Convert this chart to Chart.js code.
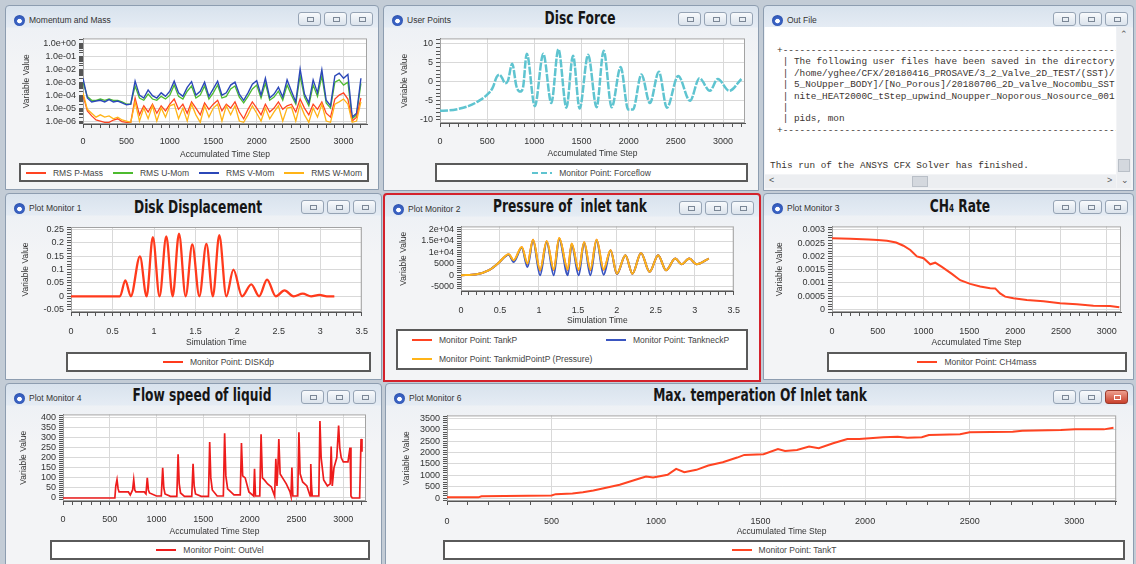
<!DOCTYPE html>
<html>
<head>
<meta charset="utf-8">
<title>CFX Solver Monitors</title>
<script src="https://cdn.jsdelivr.net/npm/chart.js@4.4.1/dist/chart.umd.min.js"></script>
<style>
  body { margin: 0; width: 1136px; height: 564px; position: relative; overflow: hidden; background: #c3ccd6; font-family: "Liberation Sans", Arial, sans-serif; }
  .win { position: absolute; box-sizing: border-box; border: 1px solid #8d9db0; border-radius: 4px 4px 0 0;
         background: linear-gradient(#d8e2ed 0, #e5ecf4 21px, #eef1f5 22px, #f3f4f6 60px); }
  .win.act { border: 2px solid #d4222c; }
  .ico { position: absolute; left: 8px; top: 9px; width: 11px; height: 11px; border-radius: 50%;
         background: radial-gradient(circle at 50% 55%, #fff 0 2px, #3d66c8 2.6px, #24479e 100%); }
  .cap { position: absolute; left: 23px; top: 9px; font-size: 8.5px; color: #333; white-space: nowrap; }
  .btns { position: absolute; right: 5px; top: 6px; display: flex; gap: 3px; }
  .btns i { display: block; position: relative; width: 23px; height: 14px; box-sizing: border-box; border: 1px solid #96a4b5;
            border-radius: 3px; background: linear-gradient(#f8fafc, #dbe3ec); }
  .btns i::after { content: ''; position: absolute; left: 8px; top: 4px; width: 5px; height: 3px; border: 1px solid #7b8796; }
  .btns i.red { background: linear-gradient(#eea08f, #c9412c); border-color: #9b3a2c; }
  .btns i.red::after { border-color: #fff; }
  .big { position: absolute; transform: translateX(-50%) scaleX(0.8); white-space: nowrap; color: #161616;
         font: bold 17px "Liberation Sans Narrow", "DejaVu Sans Condensed", sans-serif; }
  .big small { font-size: 10px; }
  .cv { position: absolute; }
  .leg { position: absolute; box-sizing: border-box; border: 2px solid #5a5a5a; background: #fff;
         font-size: 8.5px; color: #444; display: flex; align-items: center; justify-content: center; }
  .leg.spread { justify-content: space-around; }
  .leg.grid { display: grid; grid-template-columns: 194px 1fr; align-items: center; justify-content: start; padding: 0 14px; }
  .li { white-space: nowrap; display: flex; align-items: center; }
  .sw { display: inline-block; width: 20px; height: 2px; margin-right: 7px; }
  .txt { position: absolute; left: 765px; top: 27px; width: 351px; height: 147px; background: #fff; overflow: hidden;
         font: 9.4px "Liberation Mono", "DejaVu Sans Mono", monospace; color: #3a3430; }
  .txt pre { margin: 0; position: absolute; left: 12px; top: 18px; font: inherit; line-height: 11.4px; }
  .txt .done { position: absolute; left: 5px; top: 133px; white-space: nowrap; line-height: 11.4px; }
  .vs { position: absolute; left: 1117px; top: 27px; width: 14px; height: 161px; background: #eceef1; }
  .hs { position: absolute; left: 765px; top: 175px; width: 351px; height: 13px; background: #eceef1; }
  .thumb { position: absolute; background: #d4d8de; border: 1px solid #b9bfc7; box-sizing: border-box; }
  .arr { position: absolute; font-size: 9px; color: #555; }
</style>
</head>
<body>

<!-- window frames -->
<div class="win" style="left:5px;top:5px;width:374px;height:185px">
  <div class="ico"></div><div class="cap">Momentum and Mass</div>
  <div class="btns"><i></i><i></i><i></i></div>
</div>
<div class="win" style="left:383px;top:5px;width:376px;height:186px">
  <div class="ico"></div><div class="cap">User Points</div>
  <div class="btns"><i></i><i></i><i></i></div>
</div>
<div class="win" style="left:763px;top:5px;width:371px;height:186px">
  <div class="ico"></div><div class="cap">Out File</div>
  <div class="btns"><i></i><i></i><i></i></div>
</div>
<div class="win" style="left:5px;top:193px;width:377px;height:187px">
  <div class="ico"></div><div class="cap">Plot Monitor 1</div>
  <div class="btns"><i></i><i></i><i></i></div>
</div>
<div class="win act" style="left:383px;top:193px;width:378px;height:189px">
  <div class="ico"></div><div class="cap">Plot Monitor 2</div>
  <div class="btns"><i></i><i></i><i></i></div>
</div>
<div class="win" style="left:763px;top:193px;width:371px;height:187px">
  <div class="ico"></div><div class="cap">Plot Monitor 3</div>
  <div class="btns"><i></i><i></i><i></i></div>
</div>
<div class="win" style="left:5px;top:383px;width:377px;height:182px">
  <div class="ico"></div><div class="cap">Plot Monitor 4</div>
  <div class="btns"><i></i><i></i><i></i></div>
</div>
<div class="win" style="left:385px;top:383px;width:749px;height:182px">
  <div class="ico"></div><div class="cap">Plot Monitor 6</div>
  <div class="btns"><i></i><i></i><i class="red"></i></div>
</div>

<!-- big titles -->
<div class="big" style="left:580px;top:8px">Disc Force</div>
<div class="big" style="left:198px;top:197px">Disk Displacement</div>
<div class="big" style="left:570px;top:196px">Pressure of&nbsp; inlet tank</div>
<div class="big" style="left:960px;top:196px">CH<small>4</small> Rate</div>
<div class="big" style="left:202px;top:385px">Flow speed of liquid</div>
<div class="big" style="left:760px;top:385px">Max. temperation Of Inlet tank</div>

<!-- out file text -->
<div class="txt">
<pre>+--------------------------------------------------------------
 | The following user files have been saved in the directory
 | /home/yghee/CFX/20180416_PROSAVE/3_2_Valve_2D_TEST/(SST)/
 | 5_NoUpper_BODY]/[No_Porous]/20180706_2D_valve_Nocombu_SST
 | nite_HEAT2000C_tStep_upwind_Noupper_Noporous_Nosource_001
 |
 | pids, mon
+--------------------------------------------------------------</pre>
  <div class="done">This run of the ANSYS CFX Solver has finished.</div>
</div>
<div class="vs"><div class="arr" style="left:3px;top:2px">&#8963;</div><div class="thumb" style="left:1px;top:132px;width:12px;height:13px"></div><div class="arr" style="left:4px;top:148px">&#8964;</div></div>
<div class="hs"><div class="arr" style="left:4px;top:0">&lt;</div><div class="thumb" style="left:147px;top:1px;width:16px;height:11px"></div><div class="arr" style="left:342px;top:0">&gt;</div></div>

<!-- chart canvases -->
<div class="cv" style="left:15px;top:30px;width:360px;height:130px"><canvas id="cMom"></canvas></div>
<div class="cv" style="left:393px;top:30px;width:362px;height:129px"><canvas id="cForce"></canvas></div>
<div class="cv" style="left:14px;top:218px;width:364px;height:130px"><canvas id="cDisp"></canvas></div>
<div class="cv" style="left:392px;top:218px;width:358px;height:108px"><canvas id="cPress"></canvas></div>
<div class="cv" style="left:768px;top:218px;width:360px;height:130px"><canvas id="cCh4"></canvas></div>
<div class="cv" style="left:12px;top:406px;width:362px;height:131px"><canvas id="cFlow"></canvas></div>
<div class="cv" style="left:395px;top:407px;width:732px;height:130px"><canvas id="cTemp"></canvas></div>

<!-- legend boxes -->
<div class="leg spread" id="lMom" style="left:19px;top:163px;width:350px;height:19px"></div>
<div class="leg" id="lForce" style="left:435px;top:163px;width:313px;height:19px"></div>
<div class="leg" id="lDisp" style="left:66px;top:352px;width:305px;height:20px"></div>
<div class="leg grid" id="lPress" style="left:396px;top:329px;width:352px;height:41px"></div>
<div class="leg" id="lCh4" style="left:827px;top:352px;width:300px;height:20px"></div>
<div class="leg" id="lFlow" style="left:50px;top:540px;width:320px;height:20px"></div>
<div class="leg" id="lTemp" style="left:443px;top:540px;width:682px;height:20px"></div>

<script>
// ---- tick labels ----
const stepTicks = [0, 500, 1000, 1500, 2000, 2500, 3000];
const timeTicks = [0, 0.5, 1, 1.5, 2, 2.5, 3, 3.5];
const momTicks = [1e-6, 1e-5, 1e-4, 1e-3, 1e-2, 1e-1, 1];
const momLabels = ['1.0e-06', '1.0e-05', '1.0e-04', '1.0e-03', '1.0e-02', '1.0e-01', '1.0e+00'];
const forceTicks = [-10, -5, 0, 5, 10];
const dispTicks = [-0.05, 0, 0.05, 0.1, 0.15, 0.2, 0.25];
const pressTicks = [-5000, 0, 5000, 10000, 15000, 20000];
const pressLabels = ['-5000', '0', '5000', '1e+04', '1.5e+04', '2e+04'];
const ch4Ticks = [0, 0.0005, 0.001, 0.0015, 0.002, 0.0025, 0.003];
const flowTicks = [0, 50, 100, 150, 200, 250, 300, 350, 400];
const tempTicks = [0, 500, 1000, 1500, 2000, 2500, 3000, 3500];

// ---- Momentum and Mass (residuals, every 50 steps) ----
const momSteps = [
  0, 50, 100, 150, 200, 250, 300, 350, 400, 450, 500, 550, 600,
  650, 700, 750, 800, 850, 900, 950, 1000, 1050, 1100, 1150, 1200, 1250,
  1300, 1350, 1400, 1450, 1500, 1550, 1600, 1650, 1700, 1750, 1800, 1850, 1900,
  1950, 2000, 2050, 2100, 2150, 2200, 2250, 2300, 2350, 2400, 2450, 2500, 2550,
  2600, 2650, 2700, 2750, 2800, 2850, 2900, 2950, 3000, 3050, 3100, 3150, 3200];
const rmsPMass = [
  1e-4, 6e-6, 2.5e-6, 1.2e-6, 1e-6, 8e-7, 8e-7, 1.2e-6, 1.5e-6, 9e-7, 8e-7, 8e-7, 6e-5,
  3e-6, 1.5e-5, 5e-6, 2e-5, 4e-6, 1.5e-5, 6e-6, 2e-5, 5e-5, 8e-6, 2e-5, 4e-6, 3e-5,
  1e-5, 3e-6, 2.5e-5, 8e-6, 2e-5, 4e-5, 6e-6, 2e-5, 1e-5, 3e-5, 5e-6, 1.5e-6, 8e-6,
  3e-5, 1e-5, 3e-6, 2e-5, 5e-6, 1e-5, 3e-5, 8e-6, 1.5e-5, 2e-5, 5e-6, 5e-5, 1e-5,
  3e-6, 2e-5, 8e-6, 3e-5, 4e-6, 2e-6, 5e-5, 1e-4, 1.5e-4, 5e-5, 1e-6, 2e-6, 6e-5];
const rmsUMom = [
  1e-3, 8e-5, 4e-5, 4e-5, 5e-5, 4e-5, 5e-5, 4e-5, 4e-5, 3e-5, 2e-5, 2e-5, 5e-4,
  6e-5, 4e-5, 1.2e-4, 5e-5, 4e-5, 8e-5, 5e-5, 1e-4, 6e-4, 8e-5, 5e-5, 2e-4, 5e-4,
  6e-5, 1e-4, 5e-4, 5e-5, 1.5e-4, 6e-4, 6e-5, 8e-5, 3e-4, 5e-4, 7e-5, 2.5e-5, 8e-5,
  3e-4, 6e-4, 6e-5, 8e-4, 4e-5, 7e-5, 2e-4, 4e-5, 6e-4, 1e-4, 2e-5, 3e-3, 7e-5,
  1.5e-5, 6e-4, 8e-5, 3e-3, 2.5e-5, 1e-5, 1e-3, 1.5e-3, 6e-4, 1e-3, 1.5e-6, 3e-6, 8e-4];
const rmsVMom = [
  2e-3, 6e-5, 3e-5, 3.5e-5, 4e-5, 3e-5, 4.5e-5, 3e-5, 3.5e-5, 2.5e-5, 1.8e-5, 2e-5, 1.2e-3,
  1e-4, 6e-5, 2.5e-4, 9e-5, 6e-5, 1.5e-4, 8e-5, 2e-4, 1.2e-3, 1.5e-4, 8e-5, 4e-4, 1.1e-3,
  1e-4, 2e-4, 1e-3, 8e-5, 3e-4, 1.2e-3, 1e-4, 1.5e-4, 6e-4, 1e-3, 1.2e-4, 4e-5, 1.5e-4,
  7e-4, 1.3e-3, 1e-4, 2e-3, 6e-5, 1.2e-4, 4e-4, 7e-5, 1.5e-3, 2e-4, 3e-5, 1e-2, 1.2e-4,
  2.5e-5, 1.5e-3, 1.5e-4, 9e-3, 4e-5, 1.5e-5, 3e-3, 5e-3, 2e-3, 4e-3, 2e-6, 4e-6, 2e-3];
const rmsWMom = [
  1.5e-4, 8e-6, 4e-6, 2e-6, 3e-6, 2e-6, 2.5e-6, 1.5e-6, 2e-6, 1.2e-6, 1e-6, 8e-7, 3e-5,
  1e-6, 1e-5, 1.5e-6, 1.5e-5, 1e-6, 1e-5, 2e-6, 1.5e-5, 2e-5, 1.5e-6, 1e-5, 1e-6, 2e-5,
  3e-6, 8e-7, 1.5e-5, 2e-6, 1e-5, 2e-5, 1e-6, 1.5e-5, 3e-6, 1.5e-5, 1e-6, 8e-7, 3e-6,
  1.5e-5, 4e-6, 1e-6, 1e-5, 1.5e-6, 5e-6, 1.5e-5, 1e-6, 1e-5, 1.2e-5, 1e-6, 2e-5, 3e-6,
  8e-7, 1e-5, 2e-6, 2e-5, 1e-6, 8e-7, 2e-5, 3e-5, 5e-5, 2e-5, 8e-7, 1e-6, 3e-5];

// ---- Disc Force ----
const forceSteps = [0, 100, 200, 300, 400, 500, 560, 600, 630, 660, 690, 720, 765, 810, 850, 880, 920,
  1005, 1095, 1180, 1255, 1340, 1410, 1480, 1570, 1660, 1735, 1820, 1915, 1995, 2045,
  2135, 2225, 2320, 2405, 2525, 2650, 2750, 2860, 2945, 3065, 3195];
const forceVals = [-7.6, -7.5, -7.1, -6.4, -5.2, -3.4, -1.5, 1.2, 1.8, 0.9, -0.4, 0.2, 4.7, -1.2, -2.6, -1.5, 7.3,
  -6.4, 7.3, -5.6, 8.5, -6.8, 6.8, -7, 7, -6.7, 8.1, -6.7, 3.8, -7.3, -7.3,
  1.9, -5.6, 2.6, -6.8, 1.5, -5, 0.9, -2.4, 0.7, -2.4, 0.7];

// ---- Disk Displacement ----
const dispTime = [0, 0.59, 0.654, 0.72, 0.83, 0.91, 0.985, 1.066, 1.147, 1.224, 1.3, 1.38, 1.46, 1.545,
  1.63, 1.708, 1.785, 1.87, 1.955, 2.06, 2.17, 2.265, 2.36, 2.465, 2.57, 2.68, 2.79, 2.89, 2.99, 3.08, 3.17];
const dispVals = [0, 0, 0.06, 0, 0.15, 0, 0.222, 0, 0.225, 0, 0.235, 0, 0.195, 0,
  0.197, 0, 0.229, 0, 0.1, 0, 0.045, 0, 0.0625, 0, 0.022, 0, 0.01, 0, 0.005, 0, 0];

// ---- Pressure of inlet tank ----
const pressTime = [0, 0.2, 0.36, 0.47, 0.613, 0.675, 0.78, 0.853, 0.924, 1.015, 1.1, 1.19, 1.26, 1.37, 1.42,
  1.51, 1.58, 1.66, 1.74, 1.83, 1.92, 2.0, 2.11, 2.2, 2.31, 2.42, 2.53, 2.63, 2.75, 2.83, 2.93, 3.02, 3.18];
const tankP = [0, 400, 2200, 5000, 9100, 6400, 12300, 4900, 15500, 2000, 14900, 2300, 16200, 2300, 13800,
  2200, 14500, 2200, 15500, 2400, 10900, 600, 8800, 700, 9800, 1500, 8800, 2200, 7300, 4800, 7300, 4800, 7300];
const tankneckP = [0, 400, 2200, 5000, 9000, 5800, 12000, 3600, 15200, 0, 14600, 0, 15800, 0, 13500,
  0, 14200, 0, 15200, 200, 10800, 500, 8800, 700, 9800, 1500, 8800, 2200, 7300, 4800, 7300, 4800, 7300];
const tankmidP = [0, 400, 2200, 5000, 9200, 6600, 12400, 5100, 15600, 2200, 15000, 2500, 16300, 2500, 13900,
  2400, 14600, 2400, 15600, 2600, 11000, 700, 8800, 700, 9800, 1500, 8800, 2200, 7300, 4800, 7300, 4800, 7300];

// ---- CH4 Rate ----
const ch4Steps = [0, 200, 400, 500, 600, 700, 780, 855, 927, 1000, 1073, 1127, 1200, 1309, 1400, 1509,
  1618, 1727, 1782, 1836, 1891, 1982, 2127, 2309, 2491, 2673, 2855, 3036, 3138];
const ch4Vals = [0.00268, 0.00266, 0.00264, 0.00262, 0.00259, 0.00252, 0.0024, 0.00224, 0.002, 0.00193,
  0.0017, 0.00176, 0.0016, 0.00134, 0.0011, 0.00096, 0.00086, 0.0008, 0.00079, 0.0006, 0.00048,
  0.00042, 0.00035, 0.00031, 0.00023, 0.00019, 0.00014, 0.00013, 0.00008];

// ---- Flow speed of liquid ----
const flowSteps = [0, 555, 565, 578, 590, 600, 700, 720, 745, 757,
  768, 780, 870, 888, 902, 914, 926, 1000, 1052, 1067,
  1079, 1092, 1150, 1218, 1232, 1244, 1258, 1300, 1378, 1392,
  1404, 1418, 1480, 1557, 1570, 1582, 1598, 1650, 1716, 1730,
  1743, 1762, 1830, 1897, 1910, 1923, 1950, 1990, 2040, 2050,
  2060, 2106, 2120, 2134, 2155, 2190, 2230, 2265, 2278, 2290,
  2300, 2310, 2324, 2350, 2390, 2430, 2440, 2450, 2460, 2512,
  2525, 2538, 2565, 2610, 2645, 2652, 2660, 2668, 2738, 2750,
  2763, 2790, 2830, 2860, 2870, 2882, 2900, 2930, 2950, 2962,
  2978, 3000, 3050, 3072, 3082, 3095, 3175, 3190, 3200];
const flowVals = [0, 0, 60, 91, 45, 30, 30, 15, 40, 91,
  40, 30, 30, 20, 100, 40, 25, 10, 10, 150,
  50, 20, 8, 8, 218, 70, 25, 8, 8, 170,
  60, 20, 8, 8, 278, 100, 40, 10, 10, 322,
  110, 45, 15, 15, 273, 110, 100, 30, 10, 145,
  10, 10, 317, 100, 90, 70, 55, 10, 195, 60,
  150, 294, 120, 100, 70, 30, 10, 152, 10, 10,
  327, 120, 80, 60, 10, 169, 60, 10, 10, 383,
  200, 90, 60, 70, 256, 60, 150, 200, 360, 250,
  200, 180, 180, 251, 10, 0, 0, 294, 230];

// ---- Max. temperature of inlet tank ----
const tempSteps = [0, 150, 165, 500, 520, 600, 650, 700, 750, 826, 917, 952, 986, 1055, 1096, 1135, 1193,
  1250, 1319, 1388, 1422, 1514, 1583, 1617, 1674, 1732, 1778, 1847, 1915, 1972, 2087, 2156, 2202,
  2271, 2305, 2454, 2500, 2706, 2752, 2936, 3005, 3142, 3188];
const tempVals = [30, 30, 80, 110, 170, 200, 250, 330, 430, 583, 845, 948, 904, 1020, 1283, 1137, 1239,
  1428, 1574, 1778, 1895, 1924, 2157, 2070, 2114, 2260, 2187, 2405, 2595, 2595, 2668, 2697, 2653,
  2668, 2770, 2799, 2886, 2915, 2959, 2988, 3017, 3017, 3090];

// ---- helpers ----
Chart.defaults.font.family = '"Liberation Sans", Arial, sans-serif';
Chart.defaults.font.size = 9;
Chart.defaults.color = '#333';
Chart.defaults.animation = false;

function pts(xs, ys) {
  return xs.map((x, i) => ({ x: x, y: ys[i] }));
}

// minor tick positions between the labelled ones
function minorTicks(o) {
  const out = [];
  if (o.type === 'logarithmic') {
    for (let d = -7; d <= 0; d++) {
      for (let k = 2; k <= 9; k++) {
        const v = k * Math.pow(10, d);
        if (v >= o.min && v <= o.max) out.push(v);
      }
    }
    return out;
  }
  const k0 = Math.ceil(o.min / o.minor), k1 = Math.floor(o.max / o.minor);
  for (let k = k0; k <= k1; k++) out.push(+(k * o.minor).toFixed(8));
  return out.filter(v => !o.major.some(m => Math.abs(m - v) < 1e-9));
}

function axis(o) {
  const minors = minorTicks(o);
  const vertical = o.pos === 'left';
  return {
    type: o.type || 'linear',
    position: o.pos,
    min: o.min,
    max: o.max,
    afterBuildTicks: s => {
      const t = o.major.map((v, i) => ({ value: v, main: true, text: o.labels ? o.labels[i] : String(v) }));
      minors.forEach(v => t.push({ value: v, main: false, text: '' }));
      t.sort((a, b) => a.value - b.value);
      s.ticks = t;
    },
    afterFit: s => {
      if (vertical) s.width = o.size; else s.height = o.size;
    },
    ticks: {
      autoSkip: false, maxRotation: 0, minRotation: 0, padding: o.pad || 3, color: '#333',
      callback: (v, i, t) => t[i].text
    },
    grid: {
      color: c => (c.tick && c.tick.main ? '#d9d9d9' : 'rgba(0,0,0,0)'),
      tickColor: '#555', tickLength: 4
    },
    border: { display: true, color: '#555' },
    title: {
      display: true, text: o.title, color: '#333', font: { size: 8.5 },
      padding: vertical ? { top: 7, bottom: 0 } : 0
    }
  };
}

// white plot area with a thin grey frame
const plotFrame = {
  id: 'plotFrame',
  beforeDraw(chart) {
    const a = chart.chartArea, c = chart.ctx;
    c.save();
    c.fillStyle = '#fff';
    c.fillRect(a.left, a.top, a.right - a.left, a.bottom - a.top);
    c.restore();
  },
  beforeDatasetsDraw(chart) {
    const a = chart.chartArea, c = chart.ctx;
    c.save();
    c.strokeStyle = '#a3a3a3';
    c.lineWidth = 1;
    c.strokeRect(a.left + 0.5, a.top + 0.5, a.right - a.left - 1, a.bottom - a.top - 1);
    c.restore();
  }
};

function line(label, xs, ys, color, width, extra) {
  return Object.assign({
    label: label, data: pts(xs, ys), borderColor: color, backgroundColor: color,
    borderWidth: width, pointRadius: 0, fill: false, tension: 0
  }, extra || {});
}

function makeChart(id, datasets, xAxis, yAxis, pad) {
  return new Chart(document.getElementById(id), {
    type: 'line',
    data: { datasets: datasets },
    options: {
      responsive: true,
      maintainAspectRatio: false,
      animation: false,
      layout: { padding: pad },
      plugins: { legend: { display: false }, tooltip: { enabled: false } },
      scales: { x: axis(Object.assign({ pos: 'bottom' }, xAxis)), y: axis(Object.assign({ pos: 'left' }, yAxis)) }
    },
    plugins: [plotFrame]
  });
}

function fillLegend(id, datasets) {
  const box = document.getElementById(id);
  datasets.forEach(ds => {
    const d = document.createElement('div');
    d.className = 'li';
    const bg = ds.borderDash
      ? `repeating-linear-gradient(90deg, ${ds.borderColor} 0 6px, transparent 6px 9px)`
      : ds.borderColor;
    d.innerHTML = `<span class="sw" style="background:${bg}"></span>${ds.label}`;
    box.appendChild(d);
  });
}

const smooth = { cubicInterpolationMode: 'monotone', tension: 0.4 };
const stepTitle = 'Accumulated Time Step';
const timeTitle = 'Simulation Time';
const yTitle = 'Variable Value';

// ---- Momentum and Mass ----
const momSets = [
  line('RMS P-Mass', momSteps, rmsPMass, '#ff4422', 1.3, { order: 1 }),
  line('RMS U-Mom', momSteps, rmsUMom, '#4dbb2f', 1.3, { order: 3 }),
  line('RMS V-Mom', momSteps, rmsVMom, '#2b47b8', 1.4, { order: 2 }),
  line('RMS W-Mom', momSteps, rmsWMom, '#ffb418', 1.3, { order: 0 })
];
makeChart('cMom', momSets,
  { min: 0, max: 3270, major: stepTicks, minor: 100, size: 36, pad: 8, title: stepTitle },
  { type: 'logarithmic', min: 5.9e-7, max: 2.4, major: momTicks, labels: momLabels, size: 68, title: yTitle },
  { top: 6, right: 8, left: 0, bottom: 0 });
fillLegend('lMom', momSets);

// ---- Disc Force ----
const forceSets = [
  line('Monitor Point: Forceflow', forceSteps, forceVals, '#5fc4d0', 2.5, Object.assign({ borderDash: [8, 1.5] }, smooth))
];
makeChart('cForce', forceSets,
  { min: 0, max: 3233, major: stepTicks, minor: 100, size: 36, pad: 9, title: stepTitle },
  { min: -10.8, max: 11.3, major: forceTicks, minor: 1, size: 47, title: yTitle },
  { top: 7, right: 10, left: 0, bottom: 0 });
fillLegend('lForce', forceSets);

// ---- Disk Displacement ----
const dispSets = [
  line('Monitor Point: DISKdp', dispTime, dispVals, '#ff3a1c', 2.3, smooth)
];
makeChart('cDisp', dispSets,
  { min: 0, max: 3.5, major: timeTicks, minor: 0.1, size: 36, pad: 10, title: timeTitle },
  { min: -0.059, max: 0.26, major: dispTicks, minor: 0.01, size: 57, title: yTitle },
  { top: 9, right: 11, left: 0, bottom: 0 });
fillLegend('lDisp', dispSets);

// ---- Pressure of inlet tank ----
const pressSets = [
  line('Monitor Point: TankP', pressTime, tankP, '#ff4422', 2, Object.assign({ order: 2 }, smooth)),
  line('Monitor Point: TankneckP', pressTime, tankneckP, '#3a55c0', 2, Object.assign({ order: 1 }, smooth)),
  line('Monitor Point: TankmidPointP (Pressure)', pressTime, tankmidP, '#ffb418', 2, Object.assign({ order: 0 }, smooth))
];
makeChart('cPress', pressSets,
  { min: 0, max: 3.5, major: timeTicks, minor: 0.1, size: 35, pad: 10, title: timeTitle },
  { min: -6900, max: 21400, major: pressTicks, labels: pressLabels, minor: 1000, size: 69, title: yTitle },
  { top: 8, right: 7.7, left: 0, bottom: 0 });
fillLegend('lPress', pressSets);

// ---- CH4 Rate ----
const ch4Sets = [
  line('Monitor Point: CH4mass', ch4Steps, ch4Vals, '#ff4422', 2)
];
makeChart('cCh4', ch4Sets,
  { min: 0, max: 3156, major: stepTicks, minor: 100, size: 36, pad: 10, title: stepTitle },
  { min: -0.0001, max: 0.00313, major: ch4Ticks, minor: 0.0001, size: 64, title: yTitle },
  { top: 8, right: 7, left: 0, bottom: 0 });
fillLegend('lCh4', ch4Sets);

// ---- Flow speed of liquid ----
const flowSets = [
  line('Monitor Point: OutVel', flowSteps, flowVals, '#ee1c1c', 1.7)
];
makeChart('cFlow', flowSets,
  { min: 0, max: 3243, major: stepTicks, minor: 100, size: 36, pad: 9, title: stepTitle },
  { min: -15, max: 416, major: flowTicks, minor: 10, size: 51, title: yTitle },
  { top: 8, right: 8, left: 0, bottom: 0 });
fillLegend('lFlow', flowSets);

// ---- Max. temperature of inlet tank ----
const tempSets = [
  line('Monitor Point: TankT', tempSteps, tempVals, '#ff4422', 2)
];
makeChart('cTemp', tempSets,
  { min: 0, max: 3201, major: stepTicks, minor: 100, size: 36, pad: 11, title: stepTitle },
  { min: -131, max: 3631, major: tempTicks, minor: 100, size: 52, title: yTitle },
  { top: 8, right: 7, left: 0, bottom: 0 });
fillLegend('lTemp', tempSets);
</script>
</body>
</html>
